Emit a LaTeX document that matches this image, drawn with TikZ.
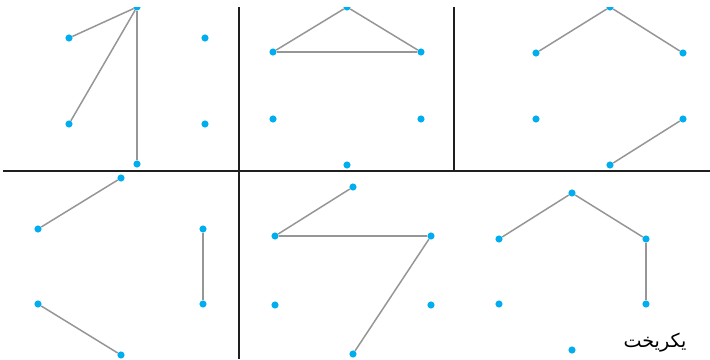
\documentclass[tikz,border=0pt]{standalone}
\usepackage{fontspec}
\usepackage{xcolor}
\usepackage{tikz}
\usetikzlibrary{positioning, calc}
\TeXXeTstate=1
\newfontfamily\arabicfont[Script=Arabic]{DejaVu Sans}
\definecolor{dotblue}{RGB}{0,174,239}
\definecolor{edgegray}{RGB}{150,150,150}

\begin{document}
\begin{tikzpicture}[x=0.035cm, y=-0.035cm,
    dot/.style={circle, fill=dotblue, inner sep=0pt, minimum size=0.25cm},
    edge/.style={draw=edgegray, line width=1.5pt},
    divider/.style={draw=black!88, line width=1.9pt}]
      \useasboundingbox (0,0) rectangle (710,359);
      \clip (0,7) rectangle (710,359);

      % Dividers
      \coordinate (hl) at (3,171);
      \coordinate (hr) at (710,171);
      \coordinate (vat) at (239,7);
      \coordinate (vab) at (239,359);
      \coordinate (vbt) at (454,7);
      \coordinate (vbb) at (454,171);
      \draw[divider] (hl) -- (hr);
      \draw[divider] (vat) -- (vab);
      \draw[divider] (vbt) -- (vbb);

      % Graph 1
      \node[dot] (p1t) at (137,7) {};   \node[dot] (p1b) at (137,164) {};
      \node[dot] (p1ul) at (69,38) {};  \node[dot] (p1ur) at (205,38) {};
      \node[dot] (p1ll) at (69,124) {}; \node[dot] (p1lr) at (205,124) {};
      \draw[edge] (p1t) -- (p1ul);
      \draw[edge] (p1t) -- (p1ll);
      \draw[edge] (p1t) -- (p1b);

      % Graph 2
      \node[dot] (p2t) at (347,7) {};    \node[dot] (p2b) at (347,165) {};
      \node[dot] (p2ul) at (273,52) {};  \node[dot] (p2ur) at (421,52) {};
      \node[dot] (p2ll) at (273,119) {}; \node[dot] (p2lr) at (421,119) {};
      \draw[edge] (p2t) -- (p2ul);
      \draw[edge] (p2t) -- (p2ur);
      \draw[edge] (p2ul) -- (p2ur);

      % Graph 3
      \node[dot] (p3t) at (610,7) {};    \node[dot] (p3b) at (610,165) {};
      \node[dot] (p3ul) at (536,53) {};  \node[dot] (p3ur) at (683,53) {};
      \node[dot] (p3ll) at (536,119) {}; \node[dot] (p3lr) at (683,119) {};
      \draw[edge] (p3t) -- (p3ul);
      \draw[edge] (p3t) -- (p3ur);
      \draw[edge] (p3lr) -- (p3b);

      % Graph 4
      \node[dot] (p4t) at (121,178) {};  \node[dot] (p4b) at (121,355) {};
      \node[dot] (p4ul) at (38,229) {};  \node[dot] (p4ur) at (203,229) {};
      \node[dot] (p4ll) at (38,304) {};  \node[dot] (p4lr) at (203,304) {};
      \draw[edge] (p4t) -- (p4ul);
      \draw[edge] (p4ur) -- (p4lr);
      \draw[edge] (p4ll) -- (p4b);

      % Graph 5
      \node[dot] (p5t) at (353,187) {};  \node[dot] (p5b) at (353,354) {};
      \node[dot] (p5ul) at (275,236) {}; \node[dot] (p5ur) at (431,236) {};
      \node[dot] (p5ll) at (275,305) {}; \node[dot] (p5lr) at (431,305) {};
      \draw[edge] (p5t) -- (p5ul);
      \draw[edge] (p5ul) -- (p5ur);
      \draw[edge] (p5ur) -- (p5b);

      % Graph 6
      \node[dot] (p6t) at (572,193) {};  \node[dot] (p6b) at (572,350) {};
      \node[dot] (p6ul) at (499,239) {}; \node[dot] (p6ur) at (646,239) {};
      \node[dot] (p6ll) at (499,304) {}; \node[dot] (p6lr) at (646,304) {};
      \draw[edge] (p6t) -- (p6ul);
      \draw[edge] (p6t) -- (p6ur);
      \draw[edge] (p6ur) -- (p6lr);

      % Caption
      \node[font=\arabicfont\fontsize{19}{22}\selectfont, inner sep=0pt] (iso) at (655,343) {\beginR یکریخت\endR};
    \end{tikzpicture}
\end{document}
